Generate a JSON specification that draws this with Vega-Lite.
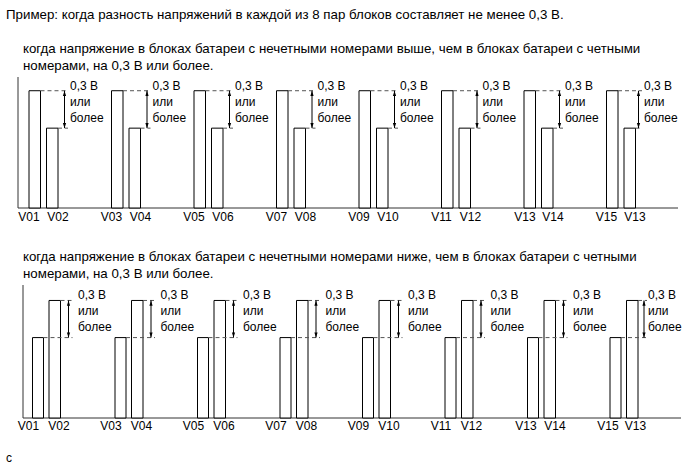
{
  "$schema": "https://vega.github.io/schema/vega-lite/v6.json",
  "padding": {"left": 5, "top": 7, "right": 5, "bottom": 5},
  "bounds": "flush",
  "spacing": 77,
  "config": {
    "view": {"stroke": null},
    "text": {"font": "Liberation Sans", "fontSize": 12, "color": "black"}
  },
  "datasets": {
    "axes1": [
      {"x": 0, "x2": 0, "y": 0, "y2": 1.05},
      {"x": 0, "x2": 660, "y": 0, "y2": 0}
    ],
    "bars1": [
      {"cell": "V01", "x0": 11, "x1": 22.5, "v": 0.94, "lx": 11},
      {"cell": "V02", "x0": 28.5, "x1": 40, "v": 0.64, "lx": 40},
      {"cell": "V03", "x0": 93.5, "x1": 105, "v": 0.94, "lx": 93.5},
      {"cell": "V04", "x0": 111, "x1": 122.5, "v": 0.64, "lx": 122.5},
      {"cell": "V05", "x0": 176, "x1": 187.5, "v": 0.94, "lx": 176},
      {"cell": "V06", "x0": 193.5, "x1": 205, "v": 0.64, "lx": 205},
      {"cell": "V07", "x0": 258.5, "x1": 270, "v": 0.94, "lx": 258.5},
      {"cell": "V08", "x0": 276, "x1": 287.5, "v": 0.64, "lx": 287.5},
      {"cell": "V09", "x0": 341, "x1": 352.5, "v": 0.94, "lx": 341},
      {"cell": "V10", "x0": 358.5, "x1": 370, "v": 0.64, "lx": 370},
      {"cell": "V11", "x0": 423.5, "x1": 435, "v": 0.94, "lx": 423.5},
      {"cell": "V12", "x0": 441, "x1": 452.5, "v": 0.64, "lx": 452.5},
      {"cell": "V13", "x0": 506, "x1": 517.5, "v": 0.94, "lx": 507},
      {"cell": "V14", "x0": 523.5, "x1": 535, "v": 0.64, "lx": 535},
      {"cell": "V15", "x0": 588.5, "x1": 600, "v": 0.94, "lx": 588.5},
      {"cell": "V13", "x0": 606, "x1": 617.5, "v": 0.64, "lx": 617}
    ],
    "pairs1": [
      {"pair": 1, "hi": 0.94, "lo": 0.64, "hiStart": 22.5, "loStart": 40, "end": 50, "ax": 46.5, "tx": 52, "ty": 0.949, "note": "0,3 В\nили\nболее"},
      {"pair": 2, "hi": 0.94, "lo": 0.64, "hiStart": 105, "loStart": 122.5, "end": 132.5, "ax": 129, "tx": 134.5, "ty": 0.949, "note": "0,3 В\nили\nболее"},
      {"pair": 3, "hi": 0.94, "lo": 0.64, "hiStart": 187.5, "loStart": 205, "end": 215, "ax": 211.5, "tx": 217, "ty": 0.949, "note": "0,3 В\nили\nболее"},
      {"pair": 4, "hi": 0.94, "lo": 0.64, "hiStart": 270, "loStart": 287.5, "end": 297.5, "ax": 294, "tx": 299.5, "ty": 0.949, "note": "0,3 В\nили\nболее"},
      {"pair": 5, "hi": 0.94, "lo": 0.64, "hiStart": 352.5, "loStart": 370, "end": 380, "ax": 376.5, "tx": 382, "ty": 0.949, "note": "0,3 В\nили\nболее"},
      {"pair": 6, "hi": 0.94, "lo": 0.64, "hiStart": 435, "loStart": 452.5, "end": 462.5, "ax": 459, "tx": 464.5, "ty": 0.949, "note": "0,3 В\nили\nболее"},
      {"pair": 7, "hi": 0.94, "lo": 0.64, "hiStart": 517.5, "loStart": 535, "end": 545, "ax": 541.5, "tx": 547, "ty": 0.949, "note": "0,3 В\nили\nболее"},
      {"pair": 8, "hi": 0.94, "lo": 0.64, "hiStart": 600, "loStart": 617.5, "end": 624, "ax": 620.5, "tx": 626, "ty": 0.949, "note": "0,3 В\nили\nболее"}
    ],
    "text1": [
      {"t": "Пример: когда разность напряжений в каждой из 8 пар блоков составляет не менее 0,3 В.", "x": -12, "y": 1.515},
      {"t": "когда напряжение в блоках батареи с нечетными номерами выше, чем в блоках батареи с четными\nномерами, на 0,3 В или более.", "x": 5, "y": 1.246}
    ],
    "axes2": [
      {"x": 0, "x2": 0, "y": 0, "y2": 1.075},
      {"x": 0, "x2": 658, "y": 0, "y2": 0}
    ],
    "bars2": [
      {"cell": "V01", "x0": 9.5, "x1": 20.5, "v": 0.65, "lx": 5.5},
      {"cell": "V02", "x0": 26, "x1": 37.5, "v": 0.95, "lx": 36},
      {"cell": "V03", "x0": 92, "x1": 103, "v": 0.65, "lx": 88},
      {"cell": "V04", "x0": 108.5, "x1": 120, "v": 0.95, "lx": 118.5},
      {"cell": "V05", "x0": 174.5, "x1": 185.5, "v": 0.65, "lx": 170.5},
      {"cell": "V06", "x0": 191, "x1": 202.5, "v": 0.95, "lx": 201},
      {"cell": "V07", "x0": 257, "x1": 268, "v": 0.65, "lx": 253},
      {"cell": "V08", "x0": 273.5, "x1": 285, "v": 0.95, "lx": 283.5},
      {"cell": "V09", "x0": 339.5, "x1": 350.5, "v": 0.65, "lx": 335.5},
      {"cell": "V10", "x0": 356, "x1": 367.5, "v": 0.95, "lx": 366},
      {"cell": "V11", "x0": 422, "x1": 433, "v": 0.65, "lx": 418},
      {"cell": "V12", "x0": 438.5, "x1": 450, "v": 0.95, "lx": 448.5},
      {"cell": "V13", "x0": 504.5, "x1": 515.5, "v": 0.65, "lx": 503},
      {"cell": "V14", "x0": 521, "x1": 532.5, "v": 0.95, "lx": 532},
      {"cell": "V15", "x0": 587, "x1": 598, "v": 0.65, "lx": 585},
      {"cell": "V13", "x0": 603.5, "x1": 615, "v": 0.95, "lx": 612.5}
    ],
    "pairs2": [
      {"pair": 1, "hi": 0.95, "lo": 0.65, "hiStart": 37.5, "loStart": 20.5, "end": 49.5, "ax": 45.5, "tx": 55, "ty": 0.959, "note": "0,3 В\nили\nболее"},
      {"pair": 2, "hi": 0.95, "lo": 0.65, "hiStart": 120, "loStart": 103, "end": 132, "ax": 128, "tx": 137.5, "ty": 0.959, "note": "0,3 В\nили\nболее"},
      {"pair": 3, "hi": 0.95, "lo": 0.65, "hiStart": 202.5, "loStart": 185.5, "end": 214.5, "ax": 210.5, "tx": 220, "ty": 0.959, "note": "0,3 В\nили\nболее"},
      {"pair": 4, "hi": 0.95, "lo": 0.65, "hiStart": 285, "loStart": 268, "end": 297, "ax": 293, "tx": 302.5, "ty": 0.959, "note": "0,3 В\nили\nболее"},
      {"pair": 5, "hi": 0.95, "lo": 0.65, "hiStart": 367.5, "loStart": 350.5, "end": 379.5, "ax": 375.5, "tx": 385, "ty": 0.959, "note": "0,3 В\nили\nболее"},
      {"pair": 6, "hi": 0.95, "lo": 0.65, "hiStart": 450, "loStart": 433, "end": 462, "ax": 458, "tx": 467.5, "ty": 0.959, "note": "0,3 В\nили\nболее"},
      {"pair": 7, "hi": 0.95, "lo": 0.65, "hiStart": 532.5, "loStart": 515.5, "end": 544.5, "ax": 540.5, "tx": 550, "ty": 0.959, "note": "0,3 В\nили\nболее"},
      {"pair": 8, "hi": 0.95, "lo": 0.65, "hiStart": 615, "loStart": 598, "end": 624, "ax": 621, "tx": 625, "ty": 0.959, "note": "0,3 В\nили\nболее"}
    ],
    "text2": [
      {"t": "когда напряжение в блоках батареи с нечетными номерами ниже, чем в блоках батареи с четными\nномерами, на 0,3 В или более.", "x": 0, "y": 1.265}
    ],
    "foot2": [
      {"t": "c", "x": -17, "y": -0.356}
    ]
  },
  "vconcat": [
    {
      "width": 660,
      "height": 131,
      "layer": [
        {
          "data": {"name": "axes1"},
          "mark": {"type": "rule", "color": "#333", "strokeWidth": 1},
          "encoding": {
            "x": {"field": "x", "type": "quantitative", "scale": {"domain": [0, 660], "nice": false, "zero": false}, "axis": null},
            "x2": {"field": "x2"},
            "y": {"field": "y", "type": "quantitative", "scale": {"domain": [0, 1.05], "nice": false, "zero": false}, "axis": null},
            "y2": {"field": "y2"}
          }
        },
        {
          "data": {"name": "bars1"},
          "mark": {"type": "rect", "fill": "white", "stroke": "black", "strokeWidth": 1},
          "encoding": {
            "x": {"field": "x0", "type": "quantitative"},
            "x2": {"field": "x1"},
            "y": {"field": "v", "type": "quantitative"},
            "y2": {"datum": 0}
          }
        },
        {
          "data": {"name": "bars1"},
          "mark": {"type": "text", "align": "center", "baseline": "alphabetic"},
          "encoding": {
            "x": {"field": "lx", "type": "quantitative"},
            "y": {"datum": -0.108},
            "text": {"field": "cell"}
          }
        },
        {
          "data": {"name": "pairs1"},
          "mark": {"type": "rule", "color": "#555", "strokeWidth": 1, "strokeDash": [4, 3]},
          "encoding": {
            "x": {"field": "hiStart", "type": "quantitative"},
            "x2": {"field": "end"},
            "y": {"field": "hi", "type": "quantitative"}
          }
        },
        {
          "data": {"name": "pairs1"},
          "mark": {"type": "rule", "color": "#555", "strokeWidth": 1, "strokeDash": [4, 3]},
          "encoding": {
            "x": {"field": "loStart", "type": "quantitative"},
            "x2": {"field": "end"},
            "y": {"field": "lo", "type": "quantitative"}
          }
        },
        {
          "data": {"name": "pairs1"},
          "mark": {"type": "rule", "color": "black", "strokeWidth": 1},
          "encoding": {
            "x": {"field": "ax", "type": "quantitative"},
            "y": {"field": "lo", "type": "quantitative"},
            "y2": {"field": "hi"}
          }
        },
        {
          "data": {"name": "pairs1"},
          "mark": {"type": "point", "shape": "M0,0L-0.8,2.6L0.8,2.6Z", "size": 16, "filled": true, "color": "black", "opacity": 1, "strokeWidth": 0},
          "encoding": {
            "x": {"field": "ax", "type": "quantitative"},
            "y": {"field": "hi", "type": "quantitative"}
          }
        },
        {
          "data": {"name": "pairs1"},
          "mark": {"type": "point", "shape": "M0,0L-0.8,-2.6L0.8,-2.6Z", "size": 16, "filled": true, "color": "black", "opacity": 1, "strokeWidth": 0},
          "encoding": {
            "x": {"field": "ax", "type": "quantitative"},
            "y": {"field": "lo", "type": "quantitative"}
          }
        },
        {
          "data": {"name": "pairs1"},
          "mark": {"type": "text", "align": "left", "baseline": "alphabetic", "lineBreak": "\n", "lineHeight": 16},
          "encoding": {
            "x": {"field": "tx", "type": "quantitative"},
            "y": {"field": "ty", "type": "quantitative"},
            "text": {"field": "note"}
          }
        },
        {
          "data": {"name": "text1"},
          "mark": {"type": "text", "align": "left", "baseline": "alphabetic", "lineBreak": "\n", "lineHeight": 17, "fontSize": 13.3},
          "encoding": {
            "x": {"field": "x", "type": "quantitative"},
            "y": {"field": "y", "type": "quantitative"},
            "text": {"field": "t"}
          }
        }
      ]
    },
    {
      "width": 663,
      "height": 133,
      "layer": [
        {
          "data": {"name": "axes2"},
          "mark": {"type": "rule", "color": "#333", "strokeWidth": 1},
          "encoding": {
            "x": {"field": "x", "type": "quantitative", "scale": {"domain": [-5, 658], "nice": false, "zero": false}, "axis": null},
            "x2": {"field": "x2"},
            "y": {"field": "y", "type": "quantitative", "scale": {"domain": [0, 1.075], "nice": false, "zero": false}, "axis": null},
            "y2": {"field": "y2"}
          }
        },
        {
          "data": {"name": "bars2"},
          "mark": {"type": "rect", "fill": "white", "stroke": "black", "strokeWidth": 1},
          "encoding": {
            "x": {"field": "x0", "type": "quantitative"},
            "x2": {"field": "x1"},
            "y": {"field": "v", "type": "quantitative"},
            "y2": {"datum": 0}
          }
        },
        {
          "data": {"name": "bars2"},
          "mark": {"type": "text", "align": "center", "baseline": "alphabetic"},
          "encoding": {
            "x": {"field": "lx", "type": "quantitative"},
            "y": {"datum": -0.101},
            "text": {"field": "cell"}
          }
        },
        {
          "data": {"name": "pairs2"},
          "mark": {"type": "rule", "color": "#555", "strokeWidth": 1, "strokeDash": [4, 3]},
          "encoding": {
            "x": {"field": "hiStart", "type": "quantitative"},
            "x2": {"field": "end"},
            "y": {"field": "hi", "type": "quantitative"}
          }
        },
        {
          "data": {"name": "pairs2"},
          "mark": {"type": "rule", "color": "#555", "strokeWidth": 1, "strokeDash": [4, 3]},
          "encoding": {
            "x": {"field": "loStart", "type": "quantitative"},
            "x2": {"field": "end"},
            "y": {"field": "lo", "type": "quantitative"}
          }
        },
        {
          "data": {"name": "pairs2"},
          "mark": {"type": "rule", "color": "black", "strokeWidth": 1},
          "encoding": {
            "x": {"field": "ax", "type": "quantitative"},
            "y": {"field": "lo", "type": "quantitative"},
            "y2": {"field": "hi"}
          }
        },
        {
          "data": {"name": "pairs2"},
          "mark": {"type": "point", "shape": "M0,0L-0.8,2.6L0.8,2.6Z", "size": 16, "filled": true, "color": "black", "opacity": 1, "strokeWidth": 0},
          "encoding": {
            "x": {"field": "ax", "type": "quantitative"},
            "y": {"field": "hi", "type": "quantitative"}
          }
        },
        {
          "data": {"name": "pairs2"},
          "mark": {"type": "point", "shape": "M0,0L-0.8,-2.6L0.8,-2.6Z", "size": 16, "filled": true, "color": "black", "opacity": 1, "strokeWidth": 0},
          "encoding": {
            "x": {"field": "ax", "type": "quantitative"},
            "y": {"field": "lo", "type": "quantitative"}
          }
        },
        {
          "data": {"name": "pairs2"},
          "mark": {"type": "text", "align": "left", "baseline": "alphabetic", "lineBreak": "\n", "lineHeight": 16},
          "encoding": {
            "x": {"field": "tx", "type": "quantitative"},
            "y": {"field": "ty", "type": "quantitative"},
            "text": {"field": "note"}
          }
        },
        {
          "data": {"name": "text2"},
          "mark": {"type": "text", "align": "left", "baseline": "alphabetic", "lineBreak": "\n", "lineHeight": 17, "fontSize": 13.3},
          "encoding": {
            "x": {"field": "x", "type": "quantitative"},
            "y": {"field": "y", "type": "quantitative"},
            "text": {"field": "t"}
          }
        },
        {
          "data": {"name": "foot2"},
          "mark": {"type": "text", "align": "left", "baseline": "alphabetic"},
          "encoding": {
            "x": {"field": "x", "type": "quantitative"},
            "y": {"field": "y", "type": "quantitative"},
            "text": {"field": "t"}
          }
        }
      ]
    }
  ]
}
